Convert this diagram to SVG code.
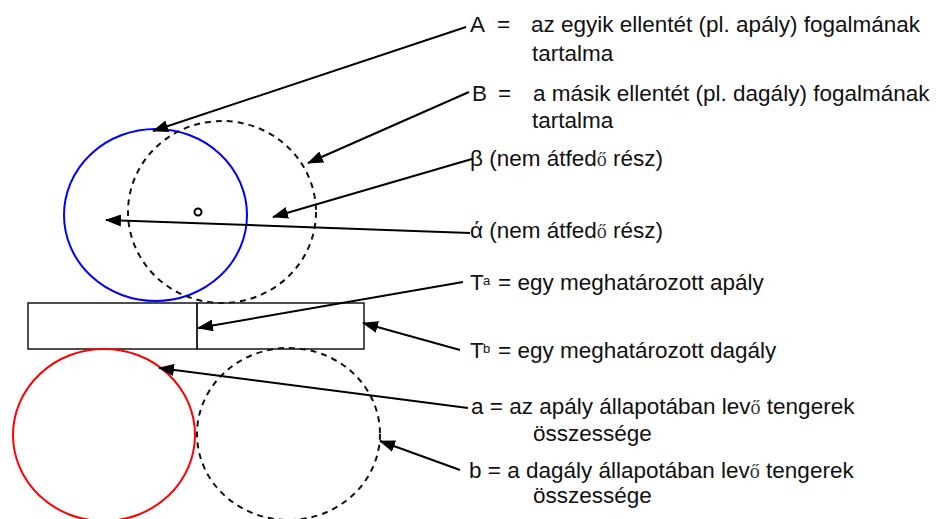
<svg xmlns="http://www.w3.org/2000/svg" width="945" height="519" viewBox="0 0 945 519">
  <defs>
    <marker id="arrow" viewBox="0 0 16 12" refX="15" refY="6" markerWidth="16" markerHeight="12" markerUnits="userSpaceOnUse" orient="auto">
      <path d="M0,0 L16,6 L0,12 Z" fill="#000"/>
    </marker>
    <style>
      .lbl { font-family: "Liberation Sans", Arial, sans-serif; font-size: 22.5px; fill: #111; }
      .sup { font-size: 13px; }
      .odia { font-family: "Liberation Serif", "Times New Roman", serif; font-size: 20px; fill: #333; }
      .set { fill: none; stroke-width: 2; }
      .dash { fill: none; stroke: #111; stroke-width: 2; stroke-dasharray: 6 5; }
      .conn { fill: none; stroke: #000; stroke-width: 2; marker-end: url(#arrow); }
      .box { fill: none; stroke: #222; stroke-width: 1.6; }
    </style>
  </defs>
  <rect width="945" height="519" fill="#fff"/>

  <!-- concept A and concept B -->
  <g id="concept-a"><ellipse class="set" cx="155.5" cy="215" rx="91.5" ry="86" stroke="#0000ff"/></g>
  <g id="concept-b"><ellipse class="dash" cx="222" cy="212" rx="94" ry="91"/></g>
  <g id="centre-mark"><circle cx="198" cy="212" r="3.5" fill="none" stroke="#000" stroke-width="2"/></g>

  <!-- the two concrete states -->
  <g id="state-ta"><rect class="box" x="28" y="303" width="169" height="46"/></g>
  <g id="state-tb"><rect class="box" x="197" y="303" width="167" height="46"/></g>

  <!-- sets of seas at low and high tide -->
  <g id="set-a"><ellipse class="set" cx="104" cy="435" rx="91" ry="86" stroke="#ff0000"/></g>
  <g id="set-b"><ellipse class="dash" cx="288.5" cy="434" rx="91.5" ry="86"/></g>

  <!-- connectors -->
  <g id="connectors">
    <line class="conn" x1="466" y1="27" x2="153" y2="131"/>
    <line class="conn" x1="469" y1="92" x2="308" y2="163"/>
    <line class="conn" x1="472" y1="159" x2="273" y2="217"/>
    <line class="conn" x1="470" y1="233" x2="106" y2="220"/>
    <line class="conn" x1="463" y1="282" x2="198" y2="328"/>
    <line class="conn" x1="460" y1="350" x2="363" y2="323"/>
    <line class="conn" x1="468" y1="408" x2="159" y2="368"/>
    <line class="conn" x1="460" y1="470" x2="380" y2="441"/>
  </g>

  <!-- labels -->
  <g id="label-a">
    <text class="lbl" y="32"><tspan x="470">A</tspan><tspan x="497">=</tspan><tspan x="531">az egyik ellentét (pl. apály) fogalmának</tspan></text>
    <text class="lbl" x="532" y="61">tartalma</text>
  </g>
  <g id="label-b">
    <text class="lbl" y="101"><tspan x="472">B</tspan><tspan x="498">=</tspan><tspan x="533">a másik ellentét (pl. dagály) fogalmának</tspan></text>
    <text class="lbl" x="532" y="128">tartalma</text>
  </g>
  <g id="label-beta">
    <text class="lbl" x="470" y="166">β (nem átfed<tspan class="odia">ő</tspan> rész)</text>
  </g>
  <g id="label-alpha">
    <text class="lbl" x="470" y="238">ά (nem átfed<tspan class="odia">ő</tspan> rész)</text>
  </g>
  <g id="label-ta">
    <text class="lbl" y="290"><tspan x="470">T</tspan><tspan class="sup" x="483" dy="-5">a</tspan><tspan x="498" dy="5">= egy meghatározott apály</tspan></text>
  </g>
  <g id="label-tb">
    <text class="lbl" y="358"><tspan x="470">T</tspan><tspan class="sup" x="483" dy="-5">b</tspan><tspan x="498" dy="5">= egy meghatározott dagály</tspan></text>
  </g>
  <g id="label-set-a">
    <text class="lbl" x="471" y="414">a = az apály állapotában lev<tspan class="odia">ő</tspan> tengerek</text>
    <text class="lbl" x="533" y="441">összessége</text>
  </g>
  <g id="label-set-b">
    <text class="lbl" x="469" y="478">b = a dagály állapotában lev<tspan class="odia">ő</tspan> tengerek</text>
    <text class="lbl" x="533" y="503">összessége</text>
  </g>
</svg>
